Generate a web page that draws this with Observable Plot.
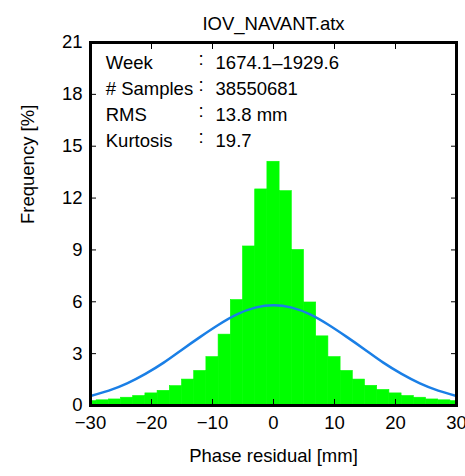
<!DOCTYPE html>
<html><head><meta charset="utf-8">
<script src="https://cdn.jsdelivr.net/npm/d3@7"></script>
<script src="https://cdn.jsdelivr.net/npm/@observablehq/plot@0.6"></script>
<style>body{margin:0;background:#fff;font-family:"Liberation Sans",Arial,sans-serif}</style>
</head><body><div id="c"></div>
<script>
const binCenters = [-30,-28,-26,-24,-22,-20,-18,-16,-14,-12,-10,-8,-6,-4,-2,0,2,4,6,8,10,12,14,16,18,20,22,24,26,28,30];
const freq = [0.25,0.3,0.35,0.45,0.55,0.7,0.85,1.12,1.5,2.0,2.8,4.1,6.1,9.2,12.5,14.1,12.4,9.0,5.96,4.0,2.8,2.0,1.5,1.14,0.9,0.7,0.55,0.45,0.35,0.3,0.25];
const curveX = [-30,-27,-24,-21,-18,-15,-12,-9,-6,-3,0,3,6,9,12,15,18,21,24,27,30];
const curveY = [0.55,0.86,1.28,1.83,2.48,3.23,3.97,4.67,5.27,5.66,5.8,5.66,5.27,4.67,3.97,3.23,2.48,1.83,1.28,0.86,0.55];
const xTicks = [-30,-20,-10,0,10,20,30];
const yTicks = [0,3,6,9,12,15,18,21];
const infoKeys = ["Week","# Samples","RMS","Kurtosis"];
const infoVals = ["1674.1\u20131929.6","38550681","13.8 mm","19.7"];

const bars = binCenters.map((c,i)=>({x1:Math.max(c-1,-30),x2:Math.min(c+1,30),y:freq[i]}));
const curve = curveX.map((x,i)=>({x,y:curveY[i]}));
const info = infoKeys.map((k,i)=>({k,v:infoVals[i],i}));

const fs = 18.5;
const plot = Plot.plot({
  width:465, height:476, marginLeft:90, marginRight:9, marginTop:42, marginBottom:71,
  style:{fontFamily:"Liberation Sans, Arial, sans-serif", fontSize:fs+"px", color:"#000", background:"#fff"},
  x:{domain:[-30,30]}, y:{domain:[0,21]},
  marks:[
    Plot.rectY(bars,{x1:"x1",x2:"x2",y1:0,y2:"y",fill:"#00ff00",stroke:"#00ff00",strokeWidth:0.6,inset:0}),
    Plot.line(curve,{x:"x",y:"y",stroke:"#1a7fe6",strokeWidth:2.5,curve:"natural"}),
    Plot.axisX({ticks:xTicks,tickSize:-6,tickPadding:16,tickFormat:d=>String(d).replace("-","\u2212"),label:null,fontSize:fs}),
    Plot.axisX({anchor:"top",ticks:xTicks,tickSize:-6,tickFormat:()=>"",label:null}),
    Plot.axisY({ticks:yTicks,tickSize:-6,tickPadding:14,label:null,fontSize:fs}),
    Plot.axisY({anchor:"right",ticks:yTicks,tickSize:-6,tickFormat:()=>"",label:null}),
    Plot.frame({stroke:"#000",strokeWidth:3}),
    Plot.text(info,{x:-27.5,y:d=>19.8-d.i*1.5,text:"k",textAnchor:"start",fontSize:fs}),
    Plot.text(info,{x:-12.3,y:d=>19.8-d.i*1.5,text:d=>":",textAnchor:"start",fontSize:fs,dy:-4}),
    Plot.text(info,{x:-9.5,y:d=>19.8-d.i*1.5,text:"v",textAnchor:"start",fontSize:fs}),
    Plot.text(["IOV_NAVANT.atx"],{frameAnchor:"top",dy:-26,text:d=>d,fontSize:fs}),
    Plot.text(["Phase residual [mm]"],{frameAnchor:"bottom",dy:56,text:d=>d,fontSize:fs}),
    Plot.text(["Frequency [%]"],{frameAnchor:"left",dx:-62,rotate:-90,text:d=>d,fontSize:fs})
  ]
});
document.getElementById("c").append(plot);
</script></body></html>
